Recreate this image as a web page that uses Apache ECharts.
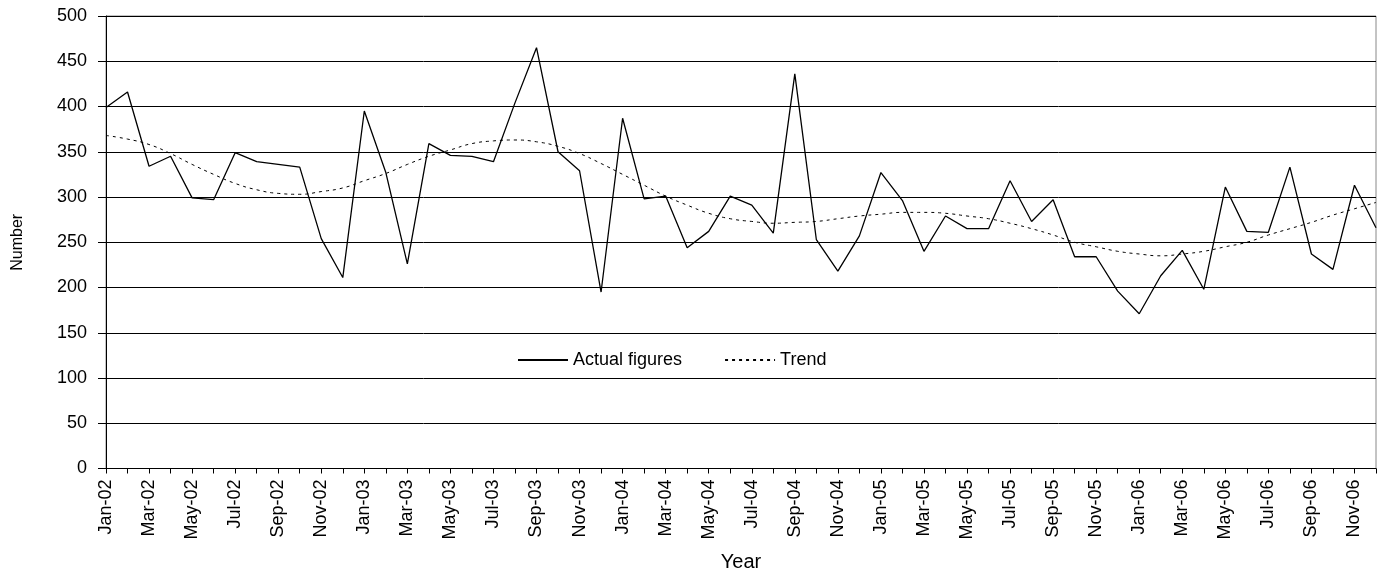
<!DOCTYPE html>
<html>
<head>
<meta charset="utf-8">
<script src="https://cdn.jsdelivr.net/npm/echarts@6/dist/echarts.min.js"></script>
<style>html,body{margin:0;padding:0;background:#fff}#c{width:1383px;height:571px}</style>
</head>
<body>
<div id="c"></div>
<script>
var categories = [
 'Jan-02','Feb-02','Mar-02','Apr-02','May-02','Jun-02','Jul-02','Aug-02','Sep-02','Oct-02','Nov-02','Dec-02',
 'Jan-03','Feb-03','Mar-03','Apr-03','May-03','Jun-03','Jul-03','Aug-03','Sep-03','Oct-03','Nov-03','Dec-03',
 'Jan-04','Feb-04','Mar-04','Apr-04','May-04','Jun-04','Jul-04','Aug-04','Sep-04','Oct-04','Nov-04','Dec-04',
 'Jan-05','Feb-05','Mar-05','Apr-05','May-05','Jun-05','Jul-05','Aug-05','Sep-05','Oct-05','Nov-05','Dec-05',
 'Jan-06','Feb-06','Mar-06','Apr-06','May-06','Jun-06','Jul-06','Aug-06','Sep-06','Oct-06','Nov-06','Dec-06'
];
var actualFigures = [
 399,416,334,345,299,297,349,339,336,333,254,211,
 395,327,226,359,346,345,339,404,465,350,329,195,
 387,298,301,244,262,301,291,260,436,253,218,257,
 327,296,240,279,265,265,318,273,297,234,234,196,
 171,213,241,198,311,262,261,333,237,220,313,266
];
var trend = [
 368,364,358,348,336,325,315,308,304,303,306,310,
 318,326,336,345,352,359,362,363,361,356,348,337,
 325,313,301,291,282,276,273,271,272,273,276,279,
 281,283,283,282,279,276,271,265,258,250,245,240,
 237,235,237,240,245,250,258,265,272,280,287,294
];
var yTicks = { min: 0, max: 500, interval: 50 };

var FONT = '"Liberation Sans", Arial, sans-serif';
var chart = echarts.init(document.getElementById('c'), null, { renderer: 'canvas' });
chart.setOption({
  animation: false,
  backgroundColor: '#fff',
  grid: { left: 106, right: 7, top: 16, bottom: 102.5, containLabel: false, outerBoundsMode: 'none',
          show: true, borderColor: '#888', borderWidth: 1 },
  legend: {
    left: 517, top: 351, padding: 0,
    itemWidth: 50, itemHeight: 10, itemGap: 42,
    itemStyle: { opacity: 0 },
    textStyle: { fontFamily: FONT, fontSize: 18, color: '#000' },
    data: ['Actual figures', 'Trend']
  },
  xAxis: {
    type: 'category', data: categories, boundaryGap: false,
    name: 'Year', nameLocation: 'middle', nameGap: 84,
    nameTextStyle: { fontFamily: FONT, fontSize: 20, color: '#000' },
    axisLine: { lineStyle: { color: '#000', width: 1 } },
    axisTick: { show: true, interval: 0, length: 5, lineStyle: { color: '#000' } },
    axisLabel: { interval: 1, rotate: 90, margin: 11, fontFamily: FONT, fontSize: 18, color: '#000' },
    splitLine: { show: false }
  },
  yAxis: {
    type: 'value', min: yTicks.min, max: yTicks.max, interval: yTicks.interval,
    name: 'Number', nameLocation: 'middle', nameGap: 80, nameRotate: 90,
    nameTextStyle: { fontFamily: FONT, fontSize: 16, color: '#000' },
    axisLine: { show: true, lineStyle: { color: '#000', width: 1 } },
    axisTick: { show: true, length: 8, lineStyle: { color: '#000' } },
    axisLabel: { margin: 19, fontFamily: FONT, fontSize: 18, color: '#000' },
    splitLine: { show: true, lineStyle: { color: '#000', width: 1 } }
  },
  series: [
    {
      name: 'Actual figures', type: 'line', data: actualFigures,
      symbol: 'none', smooth: false,
      lineStyle: { color: '#000', width: 1.3 },
      itemStyle: { color: '#000' }
    },
    {
      name: 'Trend', type: 'line', data: trend,
      symbol: 'none', smooth: true,
      lineStyle: { color: '#000', width: 1, type: [3, 4] },
      itemStyle: { color: '#000' }
    }
  ]
});
</script>
</body>
</html>
